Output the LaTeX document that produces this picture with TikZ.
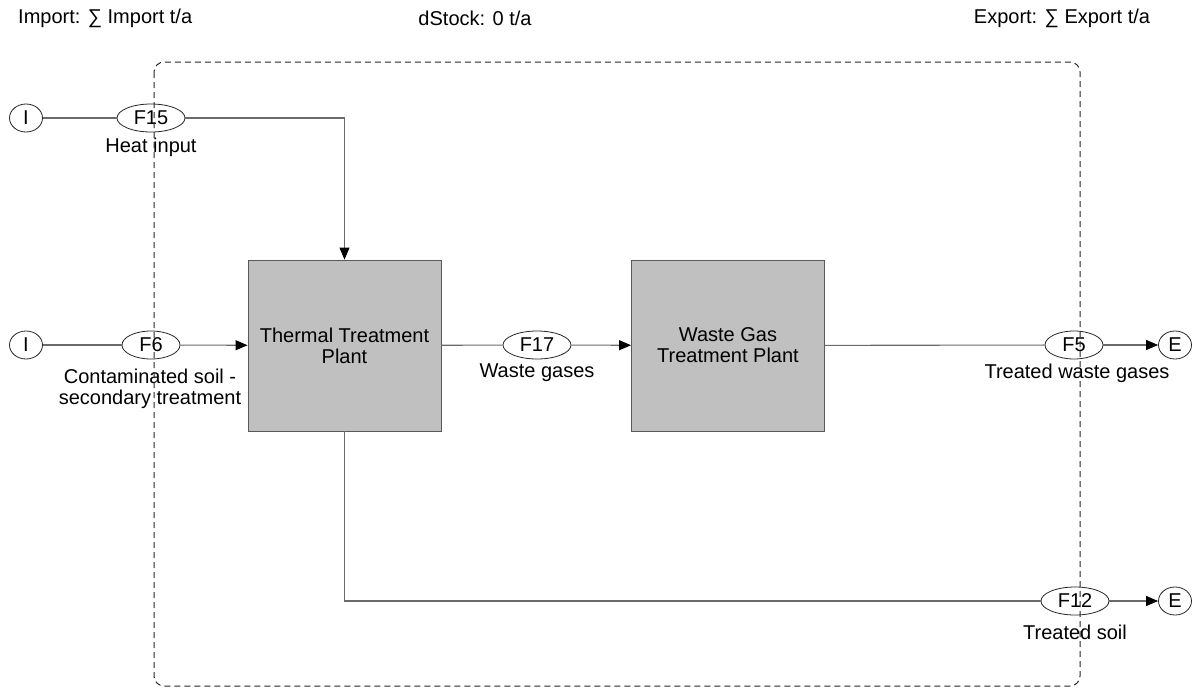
\documentclass[tikz,border=0pt]{standalone}
\usepackage{fontspec}
\setmainfont{Liberation Sans}
\usetikzlibrary{arrows.meta,shapes.geometric}
\definecolor{procgray}{HTML}{C0C0C0}
\definecolor{linegray}{HTML}{6A6A6A}
\begin{document}
\begin{tikzpicture}[x=1pt,y=-1pt,
  font=\fontsize{20}{21}\selectfont,
  flow/.style={draw=linegray, line width=1.1pt},
  arr/.style={-{Triangle[length=12pt,width=10pt,fill=black,color=black]}},
  flowell/.style={ellipse, draw=black!85, line width=0.8pt, fill=white, minimum width=68pt, minimum height=28pt, inner sep=0pt},
  term/.style={ellipse, draw=black!85, line width=0.8pt, fill=white, minimum width=33pt, minimum height=28pt, inner sep=0pt},
  proc/.style={rectangle, draw=black!65, line width=0.9pt, fill=procgray, minimum width=193pt, minimum height=171pt, align=center, inner sep=0pt},
  lbl/.style={align=center, inner sep=0pt},
  sysbox/.style={draw=black!85, line width=1pt, dash pattern=on 6pt off 4pt, rounded corners=10pt}]
\path[use as bounding box] (0,0) rectangle (1193,688);

% header texts
\node[lbl, anchor=west] (imp) at (18,18) {Import: ∑ Import t/a};
\node[lbl] (dst) at (475,18) {dStock: 0 t/a};
\node[lbl] (exp) at (1062,18) {Export: ∑ Export t/a};

% processes
\node[proc] (ttp) at (344.5,345.5) {Thermal Treatment\\[0pt]Plant};
\node[proc] (wgtp) at (728,345.5) {Waste Gas\\[0pt]Treatment Plant};

% terminals
\node[term] (i1) at (26,118) {I};
\node[term] (i2) at (26,345) {I};
\node[term] (e1) at (1175,345) {E};
\node[term] (e2) at (1175,601) {E};

% flow ellipses
\node[flowell] (f15) at (151,118) {F15};
\node[flowell, minimum width=58pt] (f6) at (151,345) {F6};
\node[flowell] (f17) at (537,345) {F17};
\node[flowell, minimum width=58pt] (f5) at (1074,345) {F5};
\node[flowell] (f12) at (1075,601) {F12};

% labels
\node[lbl] (l15) at (151,147) {Heat input};
\node[lbl] (l6) at (150,389) {Contaminated soil -\\[0pt]secondary treatment};
\node[lbl] (l17) at (537,373) {Waste gases};
\node[lbl] (l5) at (1077,373) {Treated waste gases};
\node[lbl] (l12) at (1075,632) {Treated soil};

\coordinate (c1) at (344.5,118);
\coordinate (c2) at (344.5,601);

% connectors
\draw[flow] (i1) -- (f15);
\draw[flow,arr] (f15) -- (c1) -- (ttp);
\draw[flow] (i2) -- (f6);
\draw[flow,arr] (f6) -- (ttp);
\draw[flow] (ttp) -- (f17);
\draw[flow,arr] (f17) -- (wgtp);
\draw[flow] (wgtp) -- (f5);
\draw[flow,arr] (f5) -- (e1);
\draw[flow] (ttp) -- (c2) -- (f12);
\draw[flow,arr] (f12) -- (e2);

% system boundary
\draw[sysbox] (154,62) rectangle (1080,686);
\end{tikzpicture}
\end{document}
